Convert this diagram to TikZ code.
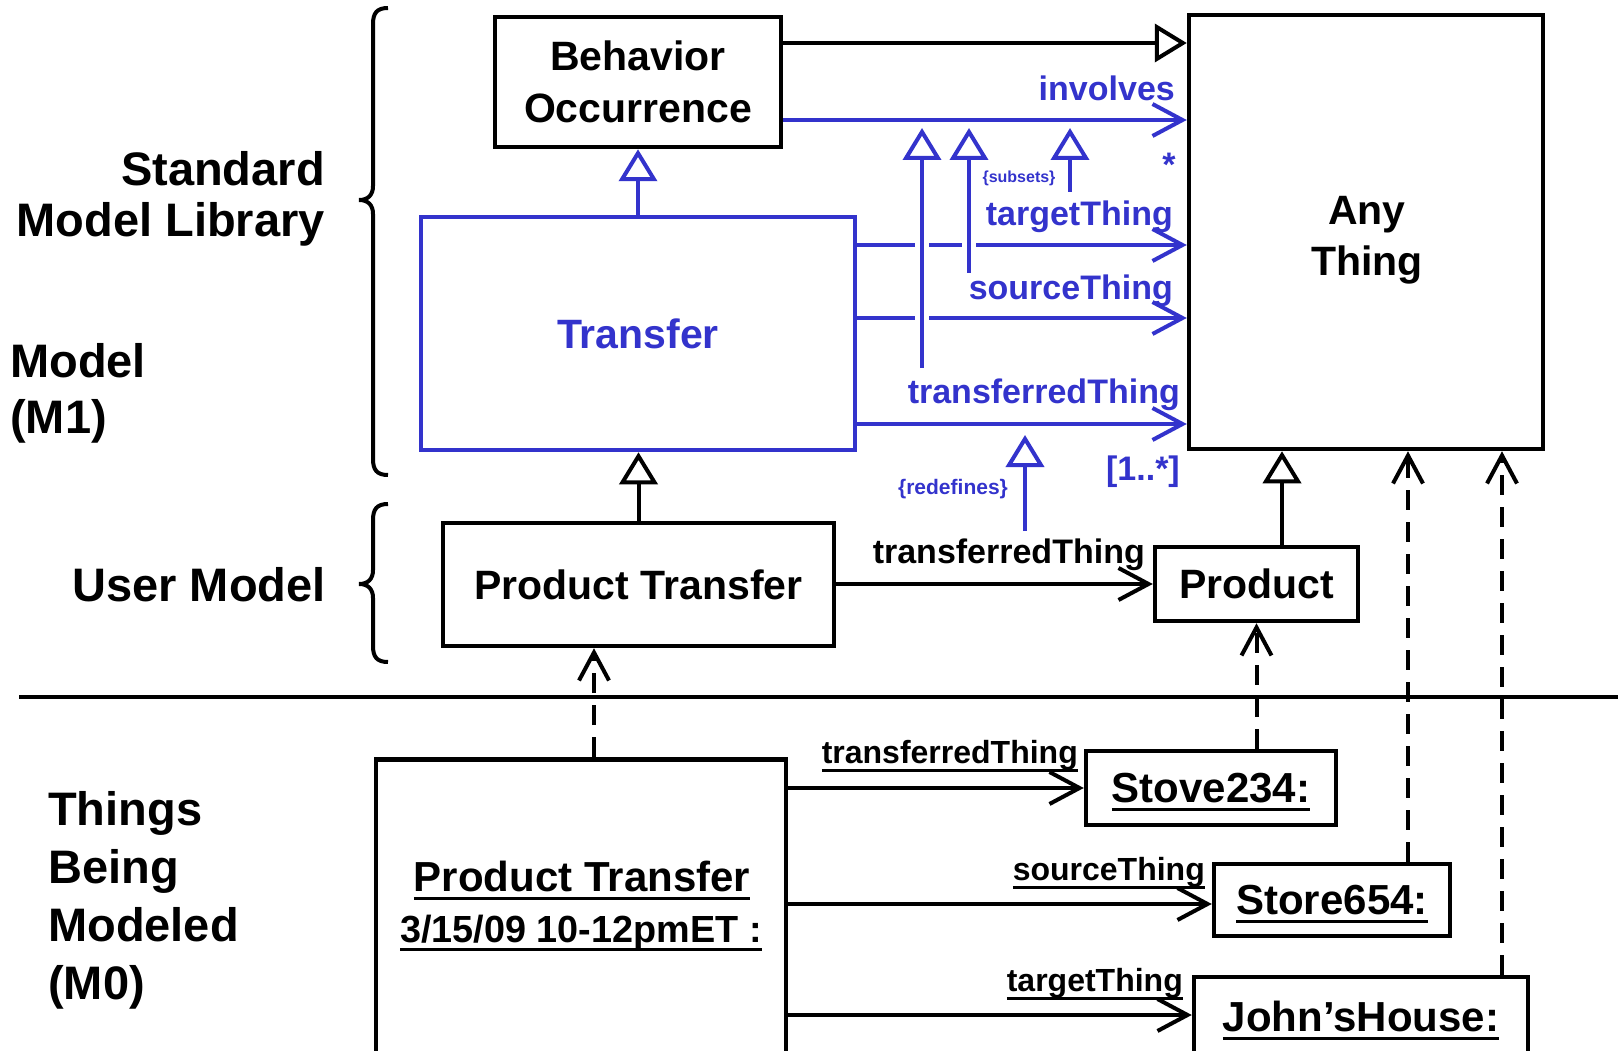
\documentclass[tikz,border=0pt]{standalone}
\usepackage{fontspec}
\setmainfont{Liberation Sans}
\usetikzlibrary{arrows.meta,calc}
\definecolor{ublue}{RGB}{51,51,204}
\newcommand{\myul}[1]{\setbox0=\hbox{#1}\rlap{\smash{\rule[-9pt]{\wd0}{3pt}}}\box0}
\newcommand{\fsz}[2]{\fontsize{#1}{#2}\selectfont\bfseries}
\begin{document}
\begin{tikzpicture}[x=1pt,y=-1pt,
  box/.style={draw, line width=4.5pt, inner sep=0pt, font=\fsz{41}{52}, align=center},
  bbox/.style={box, draw=ublue, text=ublue},
  lbl/.style={inner sep=0pt, font=\fsz{34}{40}},
  blbl/.style={lbl, text=ublue},
  side/.style={inner sep=0pt, font=\fsz{47}{51}},
  m0lbl/.style={inner sep=0pt, font=\fsz{32}{36}},
  assoc/.style={line width=4pt, -{Straight Barb[length=30pt,width=32pt]}},
  gen/.style={line width=4pt, -{Triangle[open,length=32pt,width=38pt]}},
  inst/.style={line width=4pt, dash pattern=on 20pt off 12pt, -{Straight Barb[length=28pt,width=30pt]}},
  gap/.style={draw=white, line width=14pt}
]
\useasboundingbox (0,0) rectangle (1618,1051);
\clip (0,0) rectangle (1618,1051);

% ---------- side labels and braces ----------
\node[side, anchor=east, align=right] (sml) at (325,199.3) {Standard\\Model Library};
\node[side, anchor=west, align=left] (m1) at (10,393) {Model\\[5pt](M1)};
\node[side, anchor=base east] (um) at (326,601) {User Model};
\node[side, anchor=west, align=left, font=\fsz{47}{58}] (m0) at (48,900) {Things\\Being\\Modeled\\(M0)};

\draw[line width=4pt] (388,8) .. controls (377,8) and (373,13) .. (373,24) -- (373,186)
  .. controls (373,195) and (368,200) .. (359,200) .. controls (368,200) and (373,205) .. (373,214)
  -- (373,459) .. controls (373,470) and (377,475) .. (388,475);
\draw[line width=4pt] (388,504) .. controls (377,504) and (373,509) .. (373,520) -- (373,570)
  .. controls (373,579) and (368,584) .. (359,584) .. controls (368,584) and (373,589) .. (373,598)
  -- (373,646) .. controls (373,657) and (377,662) .. (388,662);

\draw[line width=4.5pt] (19,697) -- (1618,697);

% ---------- boxes ----------
\node[box, minimum width=286pt, minimum height=130pt] (bo) at (638,82) {Behavior\\Occurrence};
\node[bbox, minimum width=434pt, minimum height=233pt] (tr) at (638,333.5) {Transfer};
\node[box, minimum width=354pt, minimum height=434pt] (any) at (1366,232) {};
\node[inner sep=0pt, font=\fsz{41}{51}, align=center] (anyl) at (1367,240) {Any\\Thing};
\node[box, minimum width=391pt, minimum height=123pt] (upt) at (638.5,584.5) {Product Transfer};
\node[box, minimum width=203pt, minimum height=74pt] (prod) at (1256.5,584) {Product};

\node[box, minimum width=410pt, minimum height=330pt, anchor=north] (m0pt) at (581,757) {};
\node[inner sep=0pt, anchor=base, font=\fsz{42}{48}] (m0t1) at (582,891) {\myul{Product Transfer}};
\node[inner sep=0pt, anchor=base, font=\fsz{37.8}{44}] (m0t2) at (581,942) {\myul{3/15/09 10-12pmET :}};
\node[box, font=\fsz{42}{48}, minimum width=250pt, minimum height=74pt] (stove) at (1211,788) {\myul{Stove234:}};
\node[box, font=\fsz{42}{48}, minimum width=236pt, minimum height=72pt] (store) at (1332,900) {\myul{Store654:}};
\node[box, font=\fsz{42}{48}, minimum width=334pt, minimum height=78pt] (john) at (1361,1016) {\myul{John’sHouse:}};

% ---------- helper coordinates ----------
\coordinate (ygen) at (0,43);
\coordinate (yinv) at (0,120);
\coordinate (ytgt) at (0,245);
\coordinate (ysrc) at (0,318);
\coordinate (ytrf) at (0,424);
\coordinate (xpg) at (1282,0);
\coordinate (xi1) at (594,0);
\coordinate (xi3) at (1408,0);
\coordinate (xi4) at (1502,0);
\coordinate (ysto) at (0,904);
\coordinate (yjoh) at (0,1015);
\coordinate (s1b) at (922,368);
\coordinate (s1t) at (922,128);
\coordinate (s2b) at (969,273);
\coordinate (s2t) at (969,128);
\coordinate (s3b) at (1070,192);
\coordinate (s3t) at (1070,128);
\coordinate (rdb) at (1025,531);
\coordinate (rdt) at (1025,435);

% ---------- M1 connectors ----------
\draw[gen] (bo.east |- ygen) -- (any.west |- ygen);
\draw[assoc, ublue] (bo.east |- yinv) -- (any.west |- yinv);
\draw[gen, ublue] (tr.north) -- (bo.south);
\draw[assoc, ublue] (tr.east |- ytgt) -- (any.west |- ytgt);
\draw[assoc, ublue] (tr.east |- ysrc) -- (any.west |- ysrc);
\draw[assoc, ublue] (tr.east |- ytrf) -- (any.west |- ytrf);

% subsets generalizations with gaps
\path[gap] (s1b) -- ($(s1t)+(0,40)$);
\path[gap] (s2b) -- ($(s2t)+(0,40)$);
\draw[gen, ublue] (s1b) -- (s1t);
\draw[gen, ublue] (s2b) -- (s2t);
\draw[gen, ublue] (s3b) -- (s3t);
\draw[gen, ublue] (rdb) -- (rdt);

\node[blbl, anchor=base east] (linv) at (1175,101) {involves};
\node[blbl, anchor=base] (lstar) at (1169,177) {*};
\node[inner sep=0pt, font=\fsz{16}{18}, text=ublue] (lsub) at (1019,178) {\{subsets\}};
\node[blbl, anchor=base east] (ltgt) at (1173,226) {targetThing};
\node[blbl, anchor=base east] (lsrc) at (1173,299) {sourceThing};
\node[blbl, anchor=base east] (ltrf) at (1180,403) {transferredThing};
\node[blbl, anchor=base east] (lmul) at (1180,480) {[1..*]};
\node[inner sep=0pt, font=\fsz{21}{24}, text=ublue] (lred) at (953,489) {\{redefines\}};

% ---------- user model connectors ----------
\draw[gen] (upt.north) -- (upt.north |- tr.south);
\draw[gen] (prod.north -| xpg) -- (any.south -| xpg);
\draw[assoc] (upt.east |- prod) -- (prod.west);
\node[lbl, anchor=base east] (lutrf) at (1145,563) {transferredThing};

% ---------- instance-of ----------
\draw[inst] (m0pt.north -| xi1) -- (upt.south -| xi1);
\draw[inst] (stove.north -| prod) -- (prod.south);
\draw[inst] (store.north -| xi3) -- (any.south -| xi3);
\draw[inst] (john.north -| xi4) -- (any.south -| xi4);

% ---------- M0 links ----------
\draw[assoc] (m0pt.east |- stove) -- (stove.west);
\draw[assoc] (m0pt.east |- ysto) -- (store.west |- ysto);
\draw[assoc] (m0pt.east |- yjoh) -- (john.west |- yjoh);
\node[m0lbl, anchor=base east] (m0l1) at (1078,763) {\myul{transferredThing}};
\node[m0lbl, anchor=base east] (m0l2) at (1205,880) {\myul{sourceThing}};
\node[m0lbl, anchor=base east] (m0l3) at (1183,991) {\myul{targetThing}};
\end{tikzpicture}
\end{document}
